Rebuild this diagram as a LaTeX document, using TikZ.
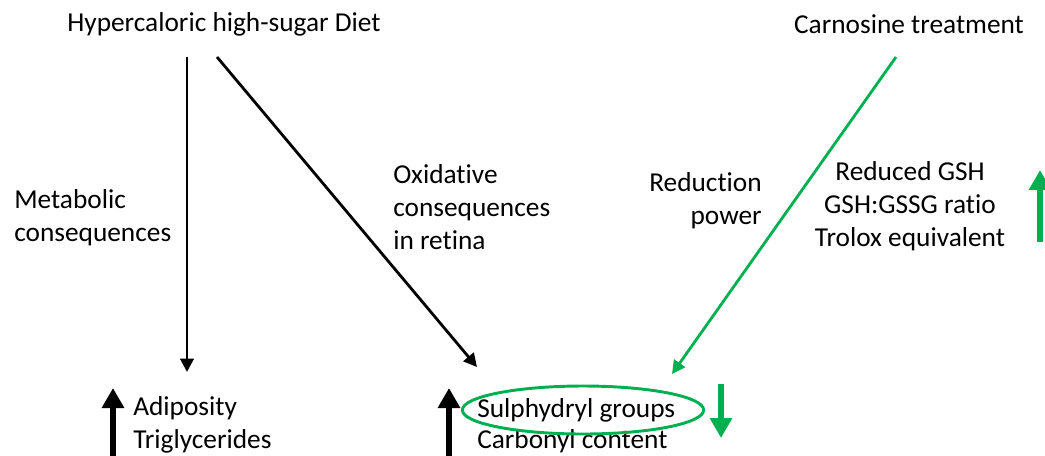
\documentclass[tikz,border=0pt]{standalone}
\usepackage{fontspec}
\setmainfont{Carlito}[Ligatures=NoCommon]
\usetikzlibrary{arrows.meta,shapes.geometric}
\definecolor{offgreen}{RGB}{0,176,80}
\begin{document}
\begin{tikzpicture}[x=0.75pt,y=-0.75pt,
  txt/.style={inner sep=0pt,font=\fontsize{20.5}{24.75}\selectfont},
  thin/.style={line width=2.1pt,-{Triangle[length=10pt,width=10pt]}},
  thick/.style={line width=4pt,-{Triangle[length=15pt,width=16pt]}}]
\useasboundingbox (0,0) rectangle (1045,455);
\clip (0,0) rectangle (1045,455);
% top texts
\node[txt] (diet) at (224,24) {Hypercaloric high-sugar Diet};
\node[txt] (carn) at (909,24) {Carnosine treatment};
% labels
\node[txt,anchor=west,align=left] (meta) at (14,218) {Metabolic\\consequences};
\node[txt,anchor=west,align=left] (oxi) at (393,207) {Oxidative\\consequences\\in retina};
\node[txt,anchor=east,align=right] (red) at (762,201) {Reduction\\power};
\node[txt,align=center] (gsh) at (910,206) {Reduced GSH\\GSH:GSSG ratio\\Trolox equivalent};
% bottom texts
\node[txt,anchor=west,align=left] (adi) at (133,425) {Adiposity\\Triglycerides};
\node[txt,anchor=west] (sulf) at (477,410) {Sulphydryl groups};
\node[txt,anchor=west] (carb) at (477,441) {Carbonyl content};
\node[draw=offgreen,line width=2.2pt,ellipse,minimum width=181pt,minimum height=36pt,inner sep=0pt] (ell) at (583,410) {};
% coordinates
\coordinate (dA) at (187,57);
\coordinate (dB) at (187,372);
\coordinate (dC) at (217,57);
\coordinate (dD) at (477,367);
\coordinate (cA) at (896,57);
\coordinate (cB) at (672,374);
\coordinate (u1a) at (113,460);
\coordinate (u1b) at (113,388);
\coordinate (u2a) at (449,460);
\coordinate (u2b) at (449,388);
\coordinate (gua) at (1040,242);
\coordinate (gub) at (1040,170);
\coordinate (gda) at (721,384);
\coordinate (gdb) at (721,438);
% connectors
\draw[thin] (dA) -- (dB);
\draw[thin] (dC) -- (dD);
\draw[thin,draw=offgreen,fill=offgreen] (cA) -- (cB);
\draw[thick] (u1a) -- (u1b);
\draw[thick] (u2a) -- (u2b);
\draw[thick,draw=offgreen,fill=offgreen] (gua) -- (gub);
\draw[thick,draw=offgreen,fill=offgreen] (gda) -- (gdb);
\end{tikzpicture}
\end{document}
